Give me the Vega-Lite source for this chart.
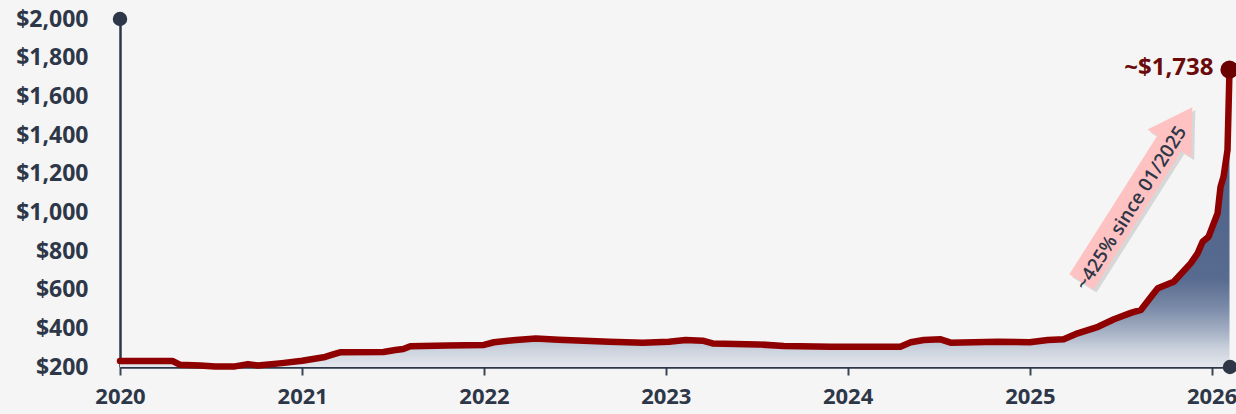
{
  "$schema": "https://vega.github.io/schema/vega-lite/v6.json",
  "width": 1110,
  "height": 348,
  "autosize": {"type": "none"},
  "padding": {"left": 120, "top": 19, "right": 6, "bottom": 47},
  "background": "#f5f5f5",
  "config": {
    "view": {"stroke": null},
    "font": "Open Sans"
  },
  "datasets": {
    "price": [
      {"date": "2020-01-01", "value": 231},
      {"date": "2020-04-16", "value": 231},
      {"date": "2020-04-30", "value": 212},
      {"date": "2020-06-10", "value": 208},
      {"date": "2020-07-10", "value": 203},
      {"date": "2020-08-19", "value": 203},
      {"date": "2020-09-14", "value": 215},
      {"date": "2020-10-04", "value": 208},
      {"date": "2020-11-21", "value": 220},
      {"date": "2021-01-01", "value": 232},
      {"date": "2021-02-16", "value": 252},
      {"date": "2021-03-04", "value": 265},
      {"date": "2021-03-18", "value": 276},
      {"date": "2021-06-13", "value": 278},
      {"date": "2021-07-07", "value": 288},
      {"date": "2021-07-23", "value": 293},
      {"date": "2021-08-06", "value": 307},
      {"date": "2021-10-20", "value": 311},
      {"date": "2022-01-01", "value": 314},
      {"date": "2022-01-21", "value": 328},
      {"date": "2022-03-06", "value": 340},
      {"date": "2022-04-15", "value": 348},
      {"date": "2022-05-31", "value": 341},
      {"date": "2022-09-09", "value": 331},
      {"date": "2022-11-16", "value": 326},
      {"date": "2023-01-07", "value": 331},
      {"date": "2023-02-10", "value": 340},
      {"date": "2023-03-16", "value": 336},
      {"date": "2023-04-05", "value": 322},
      {"date": "2023-07-05", "value": 317},
      {"date": "2023-08-26", "value": 309},
      {"date": "2023-11-28", "value": 305},
      {"date": "2024-04-16", "value": 305},
      {"date": "2024-05-07", "value": 328},
      {"date": "2024-06-02", "value": 340},
      {"date": "2024-07-06", "value": 343},
      {"date": "2024-07-26", "value": 326},
      {"date": "2024-10-28", "value": 331},
      {"date": "2025-01-01", "value": 328},
      {"date": "2025-02-06", "value": 340},
      {"date": "2025-03-10", "value": 343},
      {"date": "2025-04-07", "value": 374},
      {"date": "2025-05-18", "value": 408},
      {"date": "2025-06-19", "value": 447},
      {"date": "2025-07-23", "value": 480},
      {"date": "2025-08-12", "value": 495},
      {"date": "2025-09-07", "value": 581},
      {"date": "2025-09-15", "value": 607},
      {"date": "2025-10-17", "value": 641},
      {"date": "2025-11-20", "value": 736},
      {"date": "2025-12-04", "value": 788},
      {"date": "2025-12-14", "value": 848},
      {"date": "2025-12-26", "value": 874},
      {"date": "2026-01-13", "value": 995},
      {"date": "2026-01-19", "value": 1132},
      {"date": "2026-01-25", "value": 1184},
      {"date": "2026-02-02", "value": 1322},
      {"date": "2026-02-06", "value": 1738}
    ],
    "axisEnds": [
      {"date": "2020-01-01", "value": 2000},
      {"date": "2026-02-07", "value": 200}
    ],
    "last": [
      {"date": "2026-02-06", "value": 1738, "label": "~$1,738"}
    ],
    "arrow": [
      {"date": "2025-08-04", "value": 1092}
    ],
    "arrowText": [
      {"date": "2025-07-24", "value": 1022, "label": "~425% since 01/2025"}
    ]
  },
  "encoding": {
    "x": {
      "field": "date",
      "type": "temporal",
      "scale": {
        "type": "utc",
        "domain": [
          {"year": 2020, "month": 1, "date": 1, "utc": true},
          {"year": 2026, "month": 2, "date": 7, "utc": true}
        ],
        "nice": false
      },
      "axis": {
        "title": null,
        "format": "%Y",
        "values": [
          {"year": 2020, "month": 1, "date": 1, "utc": true},
          {"year": 2021, "month": 1, "date": 1, "utc": true},
          {"year": 2022, "month": 1, "date": 1, "utc": true},
          {"year": 2023, "month": 1, "date": 1, "utc": true},
          {"year": 2024, "month": 1, "date": 1, "utc": true},
          {"year": 2025, "month": 1, "date": 1, "utc": true},
          {"year": 2026, "month": 1, "date": 1, "utc": true}
        ],
        "grid": false,
        "domainColor": "#2d3748",
        "domainWidth": 2.5,
        "tickColor": "#3a4556",
        "tickWidth": 2,
        "tickSize": 8,
        "labelFont": "Open Sans",
        "labelFontWeight": "bold",
        "labelFontSize": 22,
        "labelColor": "#2d3748",
        "labelPadding": 11,
        "labelFlush": false,
        "labelOverlap": false,
        "labelBound": false
      }
    },
    "y": {
      "field": "value",
      "type": "quantitative",
      "scale": {"domain": [200, 2000], "nice": false, "zero": false},
      "axis": {
        "title": null,
        "values": [200, 400, 600, 800, 1000, 1200, 1400, 1600, 1800, 2000],
        "format": "$,.0f",
        "grid": false,
        "ticks": false,
        "domainColor": "#2d3748",
        "domainWidth": 2.5,
        "labelFont": "Open Sans",
        "labelFontWeight": "bold",
        "labelFontSize": 23,
        "labelColor": "#2d3748",
        "labelPadding": 32
      }
    }
  },
  "layer": [
    {
      "data": {"name": "price"},
      "mark": {
        "type": "area",
        "interpolate": "linear",
        "color": {
          "gradient": "linear",
          "x1": 0, "y1": 0, "x2": 0, "y2": 1,
          "stops": [
            {"offset": 0, "color": "#4a5c83"},
            {"offset": 0.7, "color": "#576a8f"},
            {"offset": 0.8, "color": "#7a8aa7"},
            {"offset": 0.88, "color": "#a5b0c4"},
            {"offset": 0.94, "color": "#cbd2dd"},
            {"offset": 1, "color": "#e4e7ed"}
          ]
        }
      },
      "encoding": {
        "y2": {"datum": 200}
      }
    },
    {
      "data": {"name": "price"},
      "mark": {
        "type": "line",
        "color": "#8f0000",
        "strokeWidth": 6.5,
        "strokeJoin": "round",
        "strokeCap": "round"
      },
      "encoding": {}
    },
    {
      "data": {"name": "axisEnds"},
      "mark": {"type": "point", "shape": "circle", "filled": true, "opacity": 1, "color": "#2d3748", "size": 210, "strokeWidth": 0}
    },
    {
      "data": {"name": "last"},
      "mark": {"type": "point", "shape": "circle", "filled": true, "opacity": 1, "color": "#6b0000", "size": 330, "strokeWidth": 0}
    },
    {
      "data": {"name": "last"},
      "mark": {"type": "text", "align": "right", "baseline": "middle", "dx": -16, "dy": -2, "font": "Open Sans", "fontWeight": "bold", "fontSize": 24, "color": "#6b0a0a"},
      "encoding": {"text": {"field": "label"}}
    },
    {
      "data": {"name": "arrow"},
      "mark": {
        "type": "point",
        "shape": "M -1 -0.138 L 0.585 -0.138 L 0.585 -0.25 L 1 0 L 0.585 0.25 L 0.585 0.138 L -1 0.138 Z",
        "filled": true,
        "opacity": 0.18,
        "color": "#555555",
        "size": 42849,
        "angle": 302.4,
        "strokeWidth": 0,
        "xOffset": 3,
        "yOffset": 3
      }
    },
    {
      "data": {"name": "arrow"},
      "mark": {
        "type": "point",
        "shape": "M -1 -0.138 L 0.585 -0.138 L 0.585 -0.25 L 1 0 L 0.585 0.25 L 0.585 0.138 L -1 0.138 Z",
        "filled": true,
        "opacity": 1,
        "color": "#ffc2c2",
        "size": 42849,
        "angle": 302.4,
        "strokeWidth": 0
      }
    },
    {
      "data": {"name": "arrowText"},
      "mark": {"type": "text", "align": "center", "baseline": "middle", "angle": 302.4, "font": "Open Sans", "fontWeight": 600, "fontSize": 19, "color": "#2d3748"},
      "encoding": {"text": {"field": "label"}}
    }
  ]
}
